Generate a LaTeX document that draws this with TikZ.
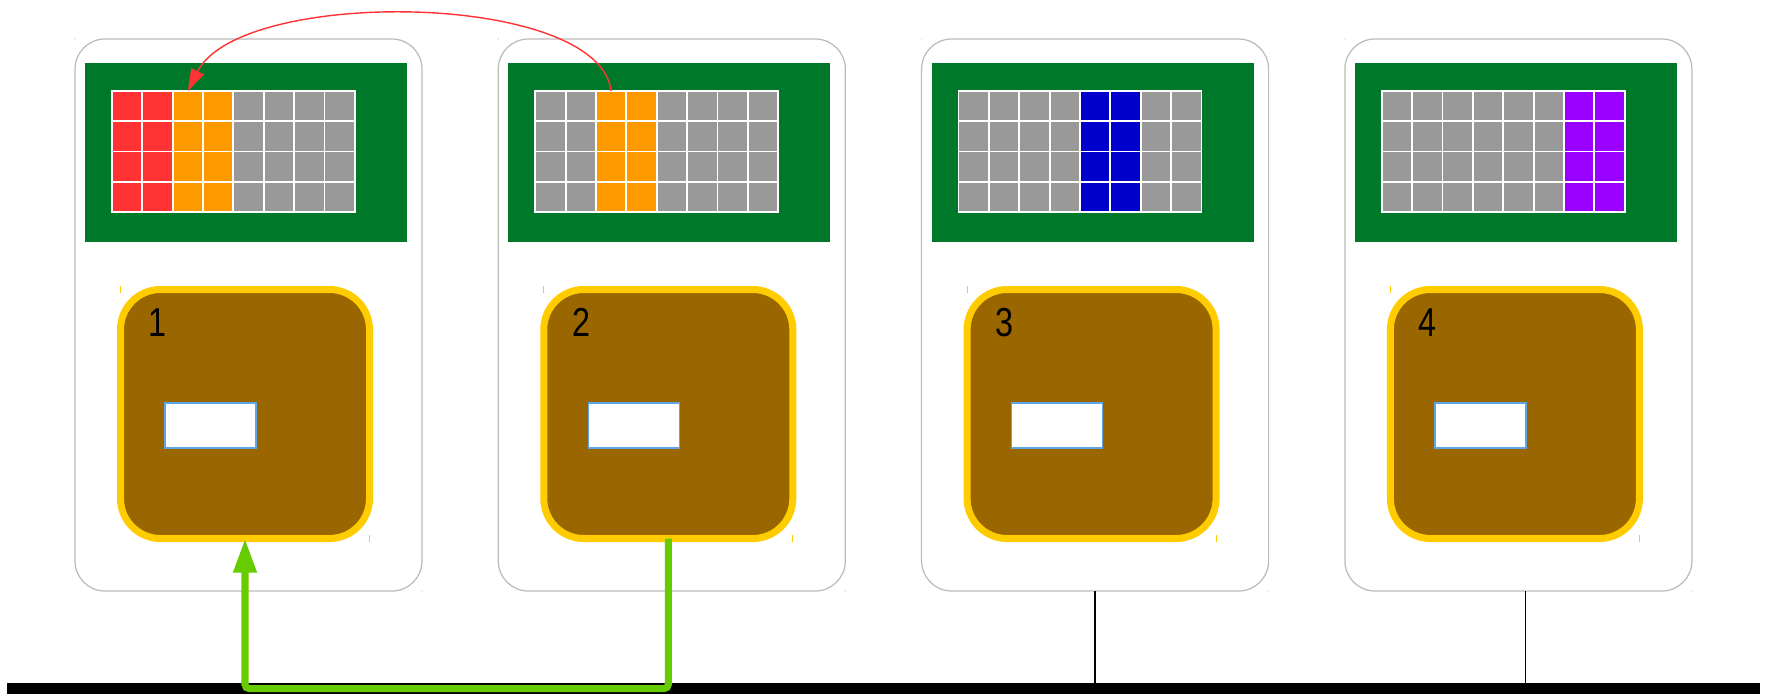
\documentclass[tikz,border=0pt]{standalone}
\usepackage{fontspec}
\setsansfont{Liberation Sans}
\usepackage{graphicx}
\usepackage{tikz}
\definecolor{cardline}{HTML}{BBBBBB}
\definecolor{screengreen}{HTML}{00782A}
\definecolor{cellgrey}{HTML}{999999}
\definecolor{cellred}{HTML}{FF3333}
\definecolor{cellorange}{HTML}{FF9900}
\definecolor{cellblue}{HTML}{0000CC}
\definecolor{cellpurple}{HTML}{9900FF}
\definecolor{chipbrown}{HTML}{996600}
\definecolor{chipyellow}{HTML}{FFCC00}
\definecolor{winblue}{HTML}{5DA5E8}
\definecolor{linkgreen}{HTML}{66CC00}
\definecolor{jumpred}{HTML}{FF3333}
\tikzset{
  card/.style={draw=cardline, line width=0.35pt, rounded corners=3mm, fill=white,
    minimum width=34.7mm, minimum height=55.2mm, inner sep=0pt, outer sep=0pt},
  screen/.style={fill=screengreen, minimum width=32.2mm, minimum height=17.9mm,
    inner sep=0pt, outer sep=0pt},
  cell/.style={fill=cellgrey, draw=white, line width=0.5pt, minimum width=3.035mm,
    minimum height=3.025mm, inner sep=0pt, outer sep=0pt},
  chip/.style={fill=chipbrown, draw=chipyellow, line width=0.7mm, rounded corners=4mm,
    minimum size=24.9mm, inner sep=0pt, outer sep=0pt},
  win/.style={fill=white, draw=winblue, line width=0.4pt, minimum width=9.1mm,
    minimum height=4.5mm, inner sep=0pt, outer sep=0pt},
  lbl/.style={font=\sffamily\fontsize{11.5}{12}\selectfont, anchor=north west, inner sep=0pt},
  tick/.style={draw=chipyellow, line width=0.3pt},
  bus/.style={fill=black, minimum width=175.3mm, minimum height=1.15mm, inner sep=0pt, outer sep=0pt},
  drop/.style={draw=black, line width=0.4pt},
  link/.style={draw=linkgreen, line width=2pt, rounded corners=0.4mm,
    -{Triangle[length=3.4mm, width=2.2mm]}},
  jump/.style={draw=jumpred, line width=0.4pt, -{Triangle[length=2.2mm, width=1.4mm]}},
  paint 1-0/.style={fill=cellred},    paint 1-1/.style={fill=cellred},
  paint 1-2/.style={fill=cellorange}, paint 1-3/.style={fill=cellorange},
  paint 2-2/.style={fill=cellorange}, paint 2-3/.style={fill=cellorange},
  paint 3-4/.style={fill=cellblue},   paint 3-5/.style={fill=cellblue},
  paint 4-6/.style={fill=cellpurple}, paint 4-7/.style={fill=cellpurple},
}
\usetikzlibrary{arrows.meta}

\begin{document}
\begin{tikzpicture}[x=0.1mm, y=-0.1mm]
  \useasboundingbox (0,0) rectangle (1765,694);

  \foreach \i in {1,...,4} {
    \pgfmathsetmacro\ox{75+423.3*(\i-1)}
    \node[card] (card\i) at ({\ox+173.5},315) {};
    \fill[cardline] (card\i.north west) circle (0.06mm) (card\i.south east) circle (0.06mm);
    \node[screen] (scr\i) at ({\ox+171},152.5) {};
    \foreach \r in {0,...,3}
      \foreach \c in {0,...,7}
        \node[cell, paint \i-\c/.try] (g\i-\r-\c) at ({\ox+52.15+30.35*\c},{106.1+30.25*\r}) {};
    \node[chip] (chip\i) at ({\ox+170},414) {};
    \draw[tick] ([yshift=0.35mm]chip\i.north west) -- ([yshift=-0.35mm]chip\i.north west);
    \draw[tick] ([yshift=0.35mm]chip\i.south east) -- ([yshift=-0.35mm]chip\i.south east);
    \node[lbl] (lbl\i) at ([xshift=2.75mm, yshift=-1.85mm]chip\i.north west) {\scalebox{0.8}[1]{\i}};
    \node[win] (win\i) at ([xshift=-3.45mm, yshift=-1.15mm]chip\i.center) {};
  }

  \node[bus] (bus) at (883.5,688.5) {};
  \foreach \i/\dx in {3/0mm,4/0.7mm}
    \draw[drop] ([xshift=\dx]card\i.south) -- ([xshift=\dx]card\i.south |- bus.north);

  \draw[link] (chip2.south) -- ++(0,150) -| (chip1.south);
  \draw[jump] (g2-0-2.north) .. controls +(-12,-100) and +(52,-104) .. (g1-0-2.north);

\end{tikzpicture}
\end{document}
